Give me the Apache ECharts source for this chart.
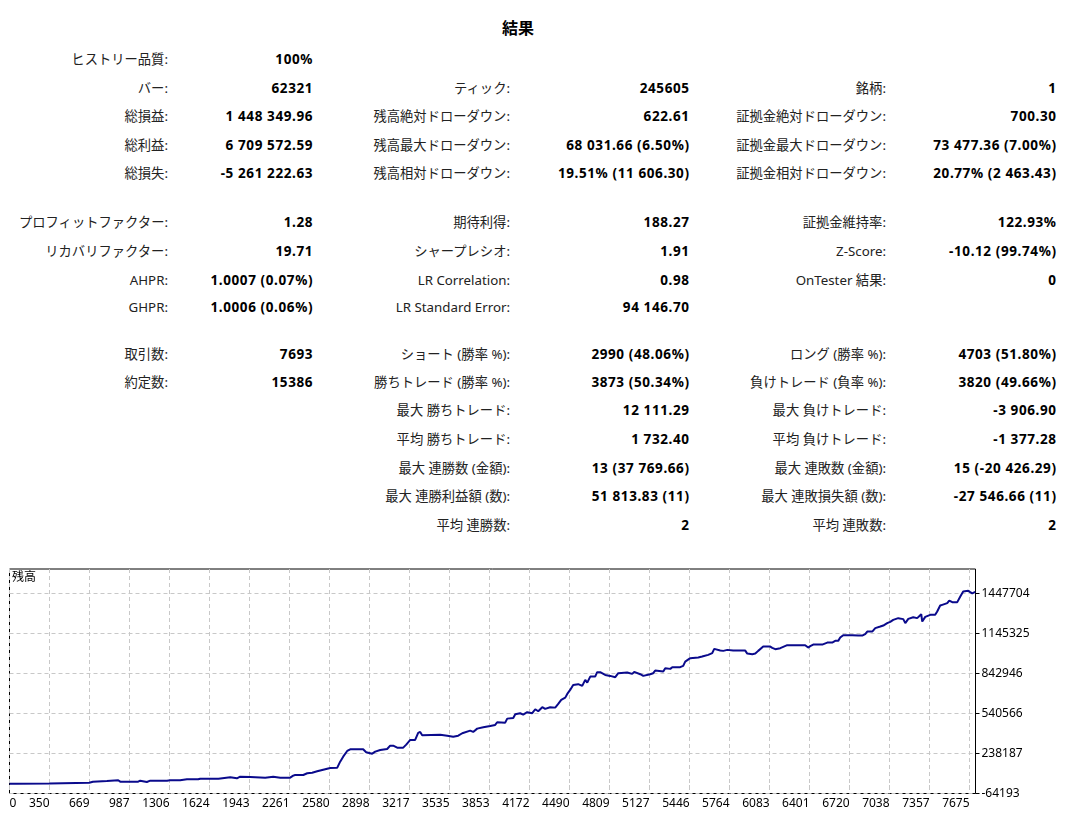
<!DOCTYPE html>
<html>
<head>
<meta charset="utf-8">
<title>結果</title>
<script src="https://cdn.jsdelivr.net/npm/echarts/dist/echarts.min.js"></script>
<style>
    html, body {
        margin: 0;
        padding: 0;
        background: #fff;
    }
    #page {
        position: relative;
        width: 1067px;
        height: 815px;
        overflow: hidden;
        font-family: "Noto Sans", "Noto Sans CJK JP", sans-serif;
        color: #000;
    }
    #report-title {
        position: absolute;
        left: 0;
        width: 1036px;
        top: 17px;
        text-align: center;
        font-size: 16px;
        font-weight: bold;
        line-height: 22px;
    }
    .lbl, .val {
        position: absolute;
        height: 18px;
        line-height: 18px;
        white-space: nowrap;
        text-align: right;
    }
    .lbl {
        font-size: 13.3px;
        color: #222;
    }
    .val {
        font-size: 13.5px;
        font-weight: bold;
        letter-spacing: 0.6px;
    }
    #balance_chart {
        position: absolute;
        left: 0;
        top: 540px;
        width: 1067px;
        height: 275px;
    }
</style>
</head>
<body>
<div id="page">
    <div id="report-title">結果</div>
    <div id="report"></div>
    <div id="balance_chart"></div>
</div>
<script>
// stats table: label, value, label, value, label, value
var STAT_ROWS = [
    ['ヒストリー品質:', '100%', '', '', '', ''],
    ['バー:', '62321', 'ティック:', '245605', '銘柄:', '1'],
    ['総損益:', '1 448 349.96', '残高絶対ドローダウン:', '622.61', '証拠金絶対ドローダウン:', '700.30'],
    ['総利益:', '6 709 572.59', '残高最大ドローダウン:', '68 031.66 (6.50%)', '証拠金最大ドローダウン:', '73 477.36 (7.00%)'],
    ['総損失:', '-5 261 222.63', '残高相対ドローダウン:', '19.51% (11 606.30)', '証拠金相対ドローダウン:', '20.77% (2 463.43)'],
    ['プロフィットファクター:', '1.28', '期待利得:', '188.27', '証拠金維持率:', '122.93%'],
    ['リカバリファクター:', '19.71', 'シャープレシオ:', '1.91', 'Z-Score:', '-10.12 (99.74%)'],
    ['AHPR:', '1.0007 (0.07%)', 'LR Correlation:', '0.98', 'OnTester 結果:', '0'],
    ['GHPR:', '1.0006 (0.06%)', 'LR Standard Error:', '94 146.70', '', ''],
    ['取引数:', '7693', 'ショート (勝率 %):', '2990 (48.06%)', 'ロング (勝率 %):', '4703 (51.80%)'],
    ['約定数:', '15386', '勝ちトレード (勝率 %):', '3873 (50.34%)', '負けトレード (負率 %):', '3820 (49.66%)'],
    ['', '', '最大 勝ちトレード:', '12 111.29', '最大 負けトレード:', '-3 906.90'],
    ['', '', '平均 勝ちトレード:', '1 732.40', '平均 負けトレード:', '-1 377.28'],
    ['', '', '最大 連勝数 (金額):', '13 (37 769.66)', '最大 連敗数 (金額):', '15 (-20 426.29)'],
    ['', '', '最大 連勝利益額 (数):', '51 813.83 (11)', '最大 連敗損失額 (数):', '-27 546.66 (11)'],
    ['', '', '平均 連勝数:', '2', '平均 連敗数:', '2']
];

// balance curve (trade number / balance)
var TRADES = [
    32, 90, 350, 356, 666, 696, 807, 897, 913, 1056, 1072, 1125, 1152, 1285, 1311, 1390,
    1444, 1534, 1550, 1695, 1709, 1789, 1842, 1868, 1948, 2067, 2131, 2187, 2266, 2290,
    2306, 2370, 2402, 2441, 2481, 2529, 2585, 2641, 2651, 2664, 2688, 2720, 2744, 2847,
    2871, 2919, 2943, 2983, 3038, 3062, 3086, 3118, 3166, 3190, 3222, 3261, 3285, 3301,
    3317, 3461, 3516, 3564, 3604, 3636, 3699, 3723, 3755, 3803, 3859, 3898, 3914, 3978,
    3994, 4042, 4058, 4097, 4121, 4153, 4193, 4217, 4241, 4273, 4296, 4336, 4376, 4400,
    4424, 4456, 4472, 4495, 4519, 4559, 4591, 4615, 4631, 4655, 4694, 4710, 4734, 4774,
    4814, 4854, 4878, 4949, 4989, 5005, 5053, 5077, 5132, 5156, 5172, 5236, 5252, 5292,
    5308, 5371, 5395, 5411, 5451, 5515, 5546, 5594, 5626, 5642, 5690, 5714, 5746, 5793,
    5889, 5905, 5945, 5969, 5992, 6032, 6088, 6104, 6128, 6168, 6183, 6223, 6287, 6295,
    6366, 6390, 6406, 6430, 6502, 6542, 6581, 6605, 6629, 6645, 6669, 6741, 6789, 6820,
    6844, 6860, 6900, 6924, 6964, 6988, 7019, 7043, 7067, 7107, 7147, 7163, 7187, 7226,
    7258, 7290, 7298, 7322, 7362, 7401, 7417, 7441, 7457, 7497, 7513, 7537, 7577, 7601,
    7624, 7664, 7680, 7696, 7720
];
var BALANCE = [
    10000, 10000, 10500, 17450, 17450, 25000, 30300, 35600, 25000, 25000, 32600, 22700, 32600, 32600, 35600, 35600,
    43200, 43200, 47700, 47700, 58300, 58300, 50700, 62800, 60500, 55200, 62800, 55200, 55200, 70400,
    75700, 75700, 88500, 93000, 103600, 115700, 128600, 130800, 138400, 176200, 214000, 257100, 269900, 269900,
    247300, 236700, 251800, 264600, 272200, 297200, 297200, 282000, 282000, 304700, 340200, 340200, 393200, 400700,
    375800, 380300, 372700, 365200, 372700, 390900, 410500, 400700, 425700, 436200, 446100, 453600, 474000, 471000,
    501300, 506500, 534500, 542100, 531500, 549600, 542100, 572300, 557200, 587400, 574600, 587400, 584400, 612400,
    642600, 660000, 688000, 718200, 756000, 761300, 748500, 793800, 773400, 818800, 818800, 852000, 852000, 831600,
    824000, 814200, 844500, 849000, 839200, 854300, 836900, 824000, 836900, 844500, 864100, 856600, 882300, 877000,
    889800, 889800, 899600, 932100, 957900, 962400, 969900, 982800, 995600, 1028200, 1015300, 1013000, 1020600, 1015300,
    1015300, 992600, 988100, 992600, 1013000, 1045500, 1045500, 1035700, 1025900, 1033400, 1045500, 1056100, 1056100, 1063700,
    1056100, 1038000, 1048600, 1060700, 1060700, 1075800, 1075800, 1088600, 1088600, 1113600, 1131700, 1131700, 1128700, 1128700,
    1139300, 1158900, 1158900, 1184600, 1196700, 1204300, 1222400, 1232300, 1247400, 1260200, 1252700, 1222400, 1254900, 1267000,
    1260200, 1290000, 1234500, 1270100, 1285200, 1285200, 1310100, 1355500, 1360800, 1374000, 1393300, 1381200, 1381200, 1423600,
    1461300, 1466600, 1456800, 1447700, 1458350
];

// axis ticks as printed by the tester (left edge is labelled "0")
var X_TICKS = [31.5, 350, 669, 987, 1306, 1624, 1943, 2261, 2580, 2898, 3217, 3535, 3853,
    4172, 4490, 4809, 5127, 5446, 5764, 6083, 6401, 6720, 7038, 7357, 7675];
var X_MIN = 31.5;
var X_MAX = 7722;
var Y_TICKS = [-64193, 238187, 540566, 842946, 1145325, 1447704];
var Y_MIN = -64193;
var Y_MAX = 1631400;

var PAGE_W = 1067;
var COL_RIGHT = [168, 312.5, 510, 689, 886, 1056];
var ROW_Y = [59, 88, 116, 145, 173, 222, 251, 280, 307, 354, 382, 410, 439, 468, 496, 525];
var FONT = '"Noto Sans", "Noto Sans CJK JP", sans-serif';

var myChart = null;

function initReport() {
    var box = document.getElementById('report');
    for (var i = 0; i < STAT_ROWS.length; i++) {
        var row = STAT_ROWS[i];
        for (var j = 0; j < row.length; j++) {
            if (!row[j]) {
                continue;
            }
            var cell = document.createElement('div');
            cell.className = (j % 2 == 0) ? 'lbl' : 'val';
            cell.textContent = row[j];
            // letter-spacing adds trailing space after the last glyph
            var shift = (j % 2 == 0) ? 0 : -0.6;
            cell.style.right = (PAGE_W - COL_RIGHT[j] + shift) + 'px';
            cell.style.top = (ROW_Y[i] - 9) + 'px';
            box.appendChild(cell);
        }
    }
}

function initBalanceChart() {
    myChart = echarts.init(document.getElementById('balance_chart'));
    var points = [];
    for (var i = 0; i < TRADES.length; i++) {
        points.push([TRADES[i], BALANCE[i]]);
    }
    var gridLine = {
        show: true,
        lineStyle: { color: '#c8c8c8', width: 1, type: [4, 3] }
    };
    var option = {
        animation: false,
        title: {
            text: '残高',
            left: 12,
            top: 32,
            padding: 0,
            textStyle: { fontSize: 12, fontWeight: 'normal', color: '#000', fontFamily: FONT }
        },
        grid: {
            left: 9.5,
            right: 91.5,
            top: 29,
            bottom: 21.5,
            show: true,
            borderColor: '#000',
            borderWidth: 1,
            backgroundColor: '#fff'
        },
        xAxis: {
            type: 'value',
            min: X_MIN,
            max: X_MAX,
            axisLine: { show: false },
            axisTick: {
                show: true,
                length: 2,
                customValues: X_TICKS,
                lineStyle: { color: '#c8c8c8' }
            },
            axisLabel: {
                customValues: X_TICKS,
                align: 'right',
                alignMinLabel: 'left',
                margin: 4,
                fontSize: 12,
                color: '#000',
                fontFamily: FONT,
                formatter: function(v) {
                    return v == X_MIN ? '0' : String(v);
                }
            },
            splitLine: gridLine
        },
        yAxis: {
            type: 'value',
            position: 'right',
            min: Y_MIN,
            max: Y_MAX,
            axisLine: { show: false },
            axisTick: {
                show: true,
                length: 4,
                customValues: Y_TICKS,
                lineStyle: { color: '#000' }
            },
            axisLabel: {
                customValues: Y_TICKS,
                margin: 6,
                fontSize: 12,
                color: '#000',
                fontFamily: FONT,
                formatter: function(v) {
                    return String(v);
                }
            },
            splitLine: gridLine
        },
        series: [{
            name: '残高',
            type: 'line',
            data: points,
            symbol: 'none',
            clip: true,
            lineStyle: { color: '#0a0a8c', width: 2 }
        }]
    };
    myChart.setOption(option);
}

initReport();
initBalanceChart();
</script>
</body>
</html>
